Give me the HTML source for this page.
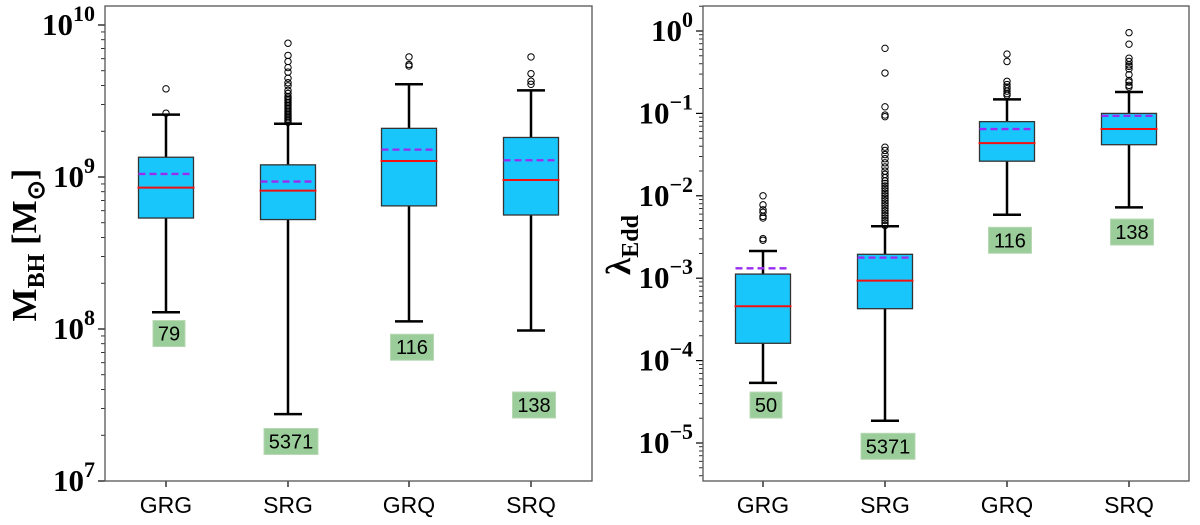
<!DOCTYPE html>
<html><head><meta charset="utf-8"><style>
body{margin:0;background:#fff;width:1200px;height:525px;overflow:hidden}
svg{display:block}
.tk{font-family:"Liberation Serif",serif;font-weight:bold;font-size:31px;fill:#000}
.xt{font-family:"Liberation Sans",sans-serif;font-size:23px;fill:#000}
.lb{font-family:"Liberation Sans",sans-serif;font-size:20px;fill:#000}
</style></head><body>
<svg id="chart" width="1200" height="525" viewBox="0 0 1200 525" style="position:absolute;left:0;top:0"></svg>
<script>
// ---- data (log10 values) ----
const categories=["GRG","SRG","GRQ","SRQ"];
const mbhCounts=["79","5371","116","138"];
const eddCounts=["50","5371","116","138"];
// left panel: M_BH
const mbhWhiskLo=[8.11,7.44,8.05,7.99];
const mbhQ1=[8.73,8.72,8.81,8.75];
const mbhMedian=[8.93,8.91,9.105,8.98];
const mbhMean=[9.02,8.97,9.18,9.11];
const mbhQ3=[9.13,9.08,9.32,9.26];
const mbhWhiskHi=[9.41,9.35,9.61,9.57];
const mbhOutliers=[[9.42,9.58],[9.36,9.37,9.38,9.39,9.4,9.41,9.42,9.43,9.44,9.45,9.46,9.47,9.48,9.49,9.5,9.51,9.52,9.53,9.55,9.57,9.6,9.62,9.65,9.69,9.72,9.76,9.8,9.88],[9.73,9.74,9.79],[9.61,9.63,9.68,9.79]];
const mbhLabelPos=[7.97,7.26,7.88,7.5];
// right panel: lambda_Edd
const eddWhiskLo=[-4.27,-4.73,-2.23,-2.14];
const eddQ1=[-3.79,-3.37,-1.58,-1.38];
const eddMedian=[-3.34,-3.03,-1.36,-1.19];
const eddMean=[-2.88,-2.75,-1.19,-1.03];
const eddQ3=[-2.95,-2.71,-1.10,-1.0];
const eddWhiskHi=[-2.67,-2.37,-0.83,-0.74];
const eddOutliers=[[-2.0,-2.11,-2.17,-2.2,-2.25,-2.27,-2.52,-2.54],[-2.36,-2.33,-2.3,-2.27,-2.24,-2.21,-2.18,-2.15,-2.12,-2.09,-2.06,-2.03,-2.0,-1.97,-1.94,-1.91,-1.88,-1.85,-1.82,-1.78,-1.74,-1.7,-1.65,-1.6,-1.55,-1.5,-1.45,-1.41,-1.04,-1.02,-0.92,-0.51,-0.21],[-0.28,-0.37,-0.61,-0.65,-0.68,-0.7,-0.73,-0.76,-0.78],[-0.02,-0.16,-0.33,-0.37,-0.41,-0.43,-0.46,-0.53,-0.6,-0.62,-0.66,-0.68]];
const eddLabelPos=[-4.54,-5.04,-2.54,-2.44];
const mbhTicks=[7,8,9,10];
const eddTicks=[-5,-4,-3,-2,-1,0];

const svg=document.getElementById('chart');
const NS='http://www.w3.org/2000/svg';
function mk(tag,at,parent){const e=document.createElementNS(NS,tag);for(const k in at)e.setAttribute(k,at[k]);(parent||svg).appendChild(e);return e;}

function panel(cfg){
  const {x0,x1,y0,y1,lmin,lmax,xs,name}=cfg;
  const g=mk('g',{});
  
  
  const Y=v=>y1-(v-lmin)/(lmax-lmin)*(y1-y0);
  for(let d=Math.floor(lmin);d<=Math.ceil(lmax);d++){
    for(let m=1;m<10;m++){
      const v=d+Math.log10(m); if(v<lmin||v>lmax) continue;
      const y=Y(v);
      mk('line',{x1:x0-(m==1?7:4),x2:x0,y1:y,y2:y,stroke:'#000','stroke-width':m==1?1.2:0.8},g);
    }
  }
  cfg.ticks.forEach(t=>{
    const tx=mk('text',{x:x0-10,y:Y(t)+10,'text-anchor':'end',class:'tk'},g);
    
    
    tx.appendChild(document.createTextNode('10'));
    const s=mk('tspan',{dy:-14,'font-size':'22'},tx);
    s.textContent=String(t).replace('-','\u2212');
  });
  const bw=55;
  categories.forEach((c,i)=>{
    const cx=xs[i];
    const bg=mk('g',{},g);
    
    
    mk('line',{x1:cx,x2:cx,y1:Y(cfg.lo[i]),y2:Y(cfg.q1[i]),stroke:'#000','stroke-width':2.5},bg);
    mk('line',{x1:cx,x2:cx,y1:Y(cfg.hi[i]),y2:Y(cfg.q3[i]),stroke:'#000','stroke-width':2.5},bg);
    mk('line',{x1:cx-14,x2:cx+14,y1:Y(cfg.lo[i]),y2:Y(cfg.lo[i]),stroke:'#000','stroke-width':2.5},bg);
    mk('line',{x1:cx-14,x2:cx+14,y1:Y(cfg.hi[i]),y2:Y(cfg.hi[i]),stroke:'#000','stroke-width':2.5},bg);
    const top=Y(cfg.q3[i]),bot=Y(cfg.q1[i]);
    mk('rect',{x:cx-bw/2,y:top,width:bw,height:bot-top,fill:'#19c6fc',stroke:'#333','stroke-width':1.3},bg);
    mk('line',{x1:cx-bw/2,x2:cx+bw/2,y1:Y(cfg.mean[i]),y2:Y(cfg.mean[i]),stroke:'#9a2bf0','stroke-width':2.3,'stroke-dasharray':'7,4'},bg);
    mk('line',{x1:cx-bw/2-1,x2:cx+bw/2+1,y1:Y(cfg.med[i]),y2:Y(cfg.med[i]),stroke:'#f21010','stroke-width':2},bg);
    cfg.out[i].forEach(v=>{mk('circle',{cx:cx,cy:Y(v),r:3.2,fill:'none',stroke:'#000','stroke-width':1},bg);});
    const ly=Y(cfg.lab[i]);
    const w=cfg.counts[i].length*11+10;
    const r=mk('rect',{x:cx-w/2+3,y:ly-13,width:w,height:26,fill:'#9acd99',stroke:'#b8d8b4','stroke-width':1},g);
    
    
    const t=mk('text',{x:cx+3,y:ly+7,'text-anchor':'middle',class:'lb'},g);
    
    
    t.textContent=cfg.counts[i];
    mk('line',{x1:cx,x2:cx,y1:y1,y2:y1+6,stroke:'#000','stroke-width':1.2},g);
    const xt=mk('text',{x:cx,y:y1+32,'text-anchor':'middle',class:'xt'},g);
    
    
    xt.textContent=c;
  });
  mk('rect',{x:x0,y:y0,width:x1-x0,height:y1-y0,fill:'none',stroke:'#555','stroke-width':1.3},g);
}
panel({name:'mbh-panel',x0:105,x1:592,y0:6,y1:481,lmin:7,lmax:7+(481-6)/152,xs:[166,288,409,531],ticks:mbhTicks,counts:mbhCounts,
  lo:mbhWhiskLo,q1:mbhQ1,med:mbhMedian,mean:mbhMean,q3:mbhQ3,hi:mbhWhiskHi,out:mbhOutliers,lab:mbhLabelPos});
panel({name:'edd-panel',x0:703,x1:1189,y0:6,y1:481,lmin:(31-481)/82.4,lmax:(31-6)/82.4,xs:[763,885,1007,1129],ticks:eddTicks,counts:eddCounts,
  lo:eddWhiskLo,q1:eddQ1,med:eddMedian,mean:eddMean,q3:eddQ3,hi:eddWhiskHi,out:eddOutliers,lab:eddLabelPos});
</script>
<svg style="position:absolute;left:0;top:0" width="1200" height="525">
<text transform="translate(36,245) rotate(-90)" text-anchor="middle" font-family="Liberation Serif,serif" font-weight="bold" font-size="35">M<tspan font-size="24" dy="8">BH</tspan><tspan dy="-8"> [M</tspan><tspan font-size="24" dy="8">⊙</tspan><tspan dy="-8">]</tspan></text>
<text transform="translate(630,245) rotate(-90)" text-anchor="middle" font-family="Liberation Serif,serif" font-weight="bold" font-size="35">λ<tspan font-size="24" dy="8">Edd</tspan></text>
</svg>
</body></html>
